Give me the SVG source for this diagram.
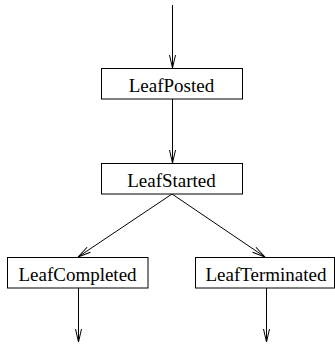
<svg xmlns="http://www.w3.org/2000/svg" width="335" height="354" viewBox="0 0 335 354">
<style>
.box{fill:#fff;stroke:#000;stroke-width:1}
.lbl{font-family:"Liberation Serif","Times New Roman",serif;font-size:19px;fill:#000;text-anchor:middle}
.edge{stroke:#000;stroke-width:1;fill:none;marker-end:url(#arr)}
</style>
<defs>
<marker id="arr" markerUnits="userSpaceOnUse" markerWidth="16" markerHeight="10" refX="0" refY="0" viewBox="-14 -5 16 10" orient="auto" overflow="visible">
<path d="M-13,-3 L0,0 L-13,3" fill="none" stroke="#000" stroke-width="1"/>
</marker>
</defs>
<g id="connectors">
<line class="edge" x1="172.5" y1="5" x2="172.5" y2="68"/>
<line class="edge" x1="172.5" y1="99" x2="172.5" y2="163"/>
<line class="edge" x1="172" y1="194" x2="78" y2="257"/>
<line class="edge" x1="172" y1="194" x2="265" y2="257"/>
<line class="edge" x1="78.5" y1="288" x2="78.5" y2="342"/>
<line class="edge" x1="266.5" y1="288" x2="266.5" y2="342"/>
</g>
<g id="LeafPosted">
<rect class="box" x="101.5" y="68.5" width="141" height="30.5"/>
<text class="lbl" x="171.5" y="92">LeafPosted</text>
</g>
<g id="LeafStarted">
<rect class="box" x="101.5" y="163.5" width="141" height="30.5"/>
<text class="lbl" x="171.5" y="186.5">LeafStarted</text>
</g>
<g id="LeafCompleted">
<rect class="box" x="7.5" y="257.5" width="140.5" height="30.5"/>
<text class="lbl" x="77.5" y="280.5">LeafCompleted</text>
</g>
<g id="LeafTerminated">
<rect class="box" x="195.5" y="257.5" width="139" height="30.5"/>
<text class="lbl" x="266" y="280.5">LeafTerminated</text>
</g>
</svg>
